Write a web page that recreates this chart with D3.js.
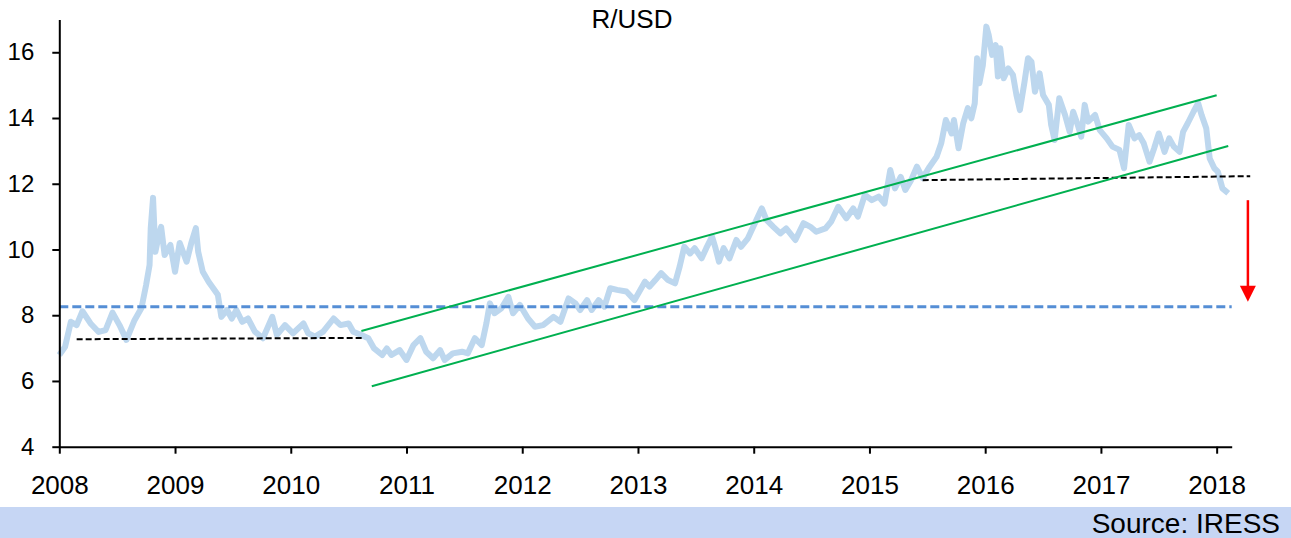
<!DOCTYPE html>
<meta charset="utf-8" />
<style>
  html,
  body {
    margin: 0;
    padding: 0;
    background: #fff;
    font-family: 'Liberation Sans', Arial, sans-serif;
  }
</style>
<script src="https://d3js.org/d3.v7.min.js"></script>

<div id="chart"></div>

<script>
  // R/USD readings, [decimal year, rate], one array per year
  const r2008 = [[2008.0, 6.79], [2008.05, 7.04], [2008.1, 7.8], [2008.15, 7.7], [2008.2, 8.12], [2008.27, 7.75], [2008.34, 7.49], [2008.4, 7.55], [2008.46, 8.08], [2008.52, 7.7], [2008.58, 7.25], [2008.65, 7.85], [2008.71, 8.22], [2008.75, 8.92], [2008.78, 9.53], [2008.79, 10.65], [2008.81, 11.57], [2008.83, 9.93], [2008.86, 10.44], [2008.88, 10.69], [2008.91, 9.83], [2008.96, 10.14]];
  const r2009 = [[2009.0, 9.32], [2009.04, 10.2], [2009.1, 9.63], [2009.14, 10.19], [2009.18, 10.65], [2009.2, 9.93], [2009.24, 9.32], [2009.29, 9.02], [2009.33, 8.82], [2009.37, 8.62], [2009.4, 7.95], [2009.45, 8.16], [2009.49, 7.9], [2009.53, 8.16], [2009.58, 7.8], [2009.63, 7.9], [2009.69, 7.5], [2009.76, 7.3], [2009.84, 7.95], [2009.88, 7.4], [2009.95, 7.7]];
  const r2010 = [[2010.02, 7.45], [2010.11, 7.75], [2010.15, 7.45], [2010.21, 7.35], [2010.28, 7.5], [2010.37, 7.9], [2010.43, 7.7], [2010.5, 7.75], [2010.54, 7.5], [2010.61, 7.4], [2010.67, 7.3], [2010.72, 6.99], [2010.79, 6.79], [2010.83, 6.99], [2010.87, 6.79], [2010.94, 6.94]];
  const r2011 = [[2011.0, 6.64], [2011.06, 7.09], [2011.12, 7.3], [2011.17, 6.89], [2011.23, 6.69], [2011.29, 6.94], [2011.33, 6.64], [2011.4, 6.84], [2011.48, 6.89], [2011.53, 6.84], [2011.59, 7.3], [2011.65, 7.09], [2011.69, 7.75], [2011.72, 8.36], [2011.76, 8.06], [2011.82, 8.21], [2011.88, 8.56], [2011.92, 8.06], [2011.98, 8.31]];
  const r2012 = [[2012.05, 7.9], [2012.11, 7.65], [2012.18, 7.7], [2012.27, 7.95], [2012.33, 7.8], [2012.4, 8.51], [2012.46, 8.36], [2012.5, 8.16], [2012.56, 8.46], [2012.6, 8.16], [2012.66, 8.46], [2012.71, 8.26], [2012.76, 8.82], [2012.82, 8.77], [2012.9, 8.72], [2012.97, 8.46]];
  const r2013 = [[2013.06, 9.02], [2013.1, 8.87], [2013.15, 9.07], [2013.2, 9.28], [2013.26, 9.07], [2013.32, 8.97], [2013.36, 9.48], [2013.4, 10.08], [2013.45, 9.88], [2013.49, 10.04], [2013.55, 9.73], [2013.59, 10.04], [2013.64, 10.39], [2013.67, 10.04], [2013.7, 9.63], [2013.74, 10.04], [2013.79, 9.73], [2013.85, 10.29], [2013.89, 10.08], [2013.95, 10.34]];
  const r2014 = [[2014.01, 10.8], [2014.07, 11.25], [2014.11, 10.9], [2014.17, 10.69], [2014.23, 10.49], [2014.28, 10.64], [2014.36, 10.29], [2014.43, 10.8], [2014.49, 10.69], [2014.54, 10.54], [2014.62, 10.64], [2014.67, 10.85], [2014.73, 11.3], [2014.8, 10.95], [2014.86, 11.25], [2014.9, 11.0], [2014.96, 11.66]];
  const r2015 = [[2015.02, 11.5], [2015.08, 11.61], [2015.13, 11.4], [2015.18, 12.42], [2015.22, 11.86], [2015.27, 12.21], [2015.31, 11.81], [2015.36, 12.11], [2015.41, 12.52], [2015.46, 12.17], [2015.52, 12.52], [2015.58, 12.82], [2015.62, 13.23], [2015.66, 13.94], [2015.71, 13.53], [2015.73, 13.94], [2015.77, 13.08], [2015.81, 13.84], [2015.85, 14.3], [2015.88, 13.99], [2015.91, 14.45], [2015.93, 15.82], [2015.95, 15.06], [2015.98, 15.61]];
  const r2016 = [[2016.01, 16.78], [2016.03, 16.53], [2016.06, 15.92], [2016.09, 16.22], [2016.11, 15.26], [2016.13, 16.12], [2016.16, 15.21], [2016.2, 15.51], [2016.24, 15.31], [2016.27, 14.7], [2016.3, 14.24], [2016.34, 15.1], [2016.37, 15.82], [2016.4, 15.71], [2016.43, 14.8], [2016.47, 15.36], [2016.5, 14.7], [2016.55, 14.4], [2016.57, 13.79], [2016.6, 13.33], [2016.64, 14.6], [2016.69, 14.09], [2016.73, 13.58], [2016.76, 14.19], [2016.8, 13.79], [2016.83, 13.43], [2016.86, 14.4], [2016.89, 13.89], [2016.95, 14.09], [2016.99, 13.63]];
  const r2017 = [[2017.05, 13.38], [2017.1, 13.13], [2017.16, 13.03], [2017.2, 12.47], [2017.24, 13.79], [2017.29, 13.38], [2017.33, 13.48], [2017.37, 13.23], [2017.42, 12.67], [2017.46, 13.08], [2017.5, 13.53], [2017.55, 12.97], [2017.59, 13.38], [2017.63, 13.13], [2017.68, 12.97], [2017.71, 13.58], [2017.75, 13.84], [2017.8, 14.19], [2017.84, 14.45], [2017.87, 14.09], [2017.91, 13.69], [2017.94, 12.77], [2017.98, 12.47]];
  const r2018 = [[2018.01, 12.37], [2018.05, 11.86], [2018.1, 11.71]];

  // annotation lines
  const blueLevel = [[2008.0, 8.26], [2018.13, 8.26]];
  const supportOld = [[2008.15, 7.27], [2010.63, 7.31]];
  const supportNew = [[2015.46, 12.11], [2018.29, 12.23]];
  const channelTop = [[2010.61, 7.52], [2018.0, 14.69]];
  const channelBottom = [[2010.7, 5.84], [2018.1, 13.15]];
  const arrowPts = [[2018.27, 11.5], [2018.27, 8.41]];

  const yTicks = [4, 6, 8, 10, 12, 14, 16];
  const xTicks = [2008, 2009, 2010, 2011, 2012, 2013, 2014, 2015, 2016, 2017, 2018];

  const W = 1291;
  const H = 538;

  const svg = d3
    .select('#chart')
    .append('svg')
    .attr('width', W)
    .attr('height', H);

  const x = d3.scaleLinear().domain([2008, 2018.13]).range([59.3, 1231.7]);
  const y = d3.scaleLinear().domain([4, 17]).range([446.7, 19.4]);

  const line = d3
    .line()
    .x((d) => x(d[0]))
    .y((d) => y(d[1]));

  const rates = [].concat(r2008, r2009, r2010, r2011, r2012, r2013, r2014, r2015, r2016, r2017, r2018);

  // source band
  svg
    .append('rect')
    .attr('x', 0)
    .attr('y', 507)
    .attr('width', W)
    .attr('height', H - 507)
    .attr('fill', '#c6d6f4');

  svg
    .append('text')
    .attr('x', 1280)
    .attr('y', 533)
    .attr('text-anchor', 'end')
    .style('font-size', '28px')
    .text('Source: IRESS');

  // title
  svg
    .append('text')
    .attr('x', 632)
    .attr('y', 28)
    .attr('text-anchor', 'middle')
    .style('font-size', '26px')
    .text('R/USD');

  // the rate
  svg
    .append('path')
    .datum(rates)
    .attr('d', line)
    .attr('fill', 'none')
    .attr('stroke', '#bdd7ee')
    .attr('stroke-width', 6)
    .attr('stroke-linejoin', 'round');

  svg
    .append('path')
    .datum(blueLevel)
    .attr('d', line)
    .attr('stroke', '#558ed5')
    .attr('stroke-width', 3)
    .attr('stroke-dasharray', '9,4');

  [supportOld, supportNew].forEach((pts) => {
    svg
      .append('path')
      .datum(pts)
      .attr('d', line)
      .attr('stroke', '#000')
      .attr('stroke-width', 2)
      .attr('stroke-dasharray', '6,3');
  });

  [channelTop, channelBottom].forEach((pts) => {
    svg
      .append('path')
      .datum(pts)
      .attr('d', line)
      .attr('stroke', '#00b050')
      .attr('stroke-width', 2);
  });

  // red arrow
  const ax = x(arrowPts[0][0]);
  const ay0 = y(arrowPts[0][1]);
  const ay1 = y(arrowPts[1][1]);
  svg
    .append('line')
    .attr('x1', ax)
    .attr('x2', ax)
    .attr('y1', ay0)
    .attr('y2', ay1 - 12)
    .attr('stroke', '#ff0000')
    .attr('stroke-width', 2.5);
  svg
    .append('path')
    .attr('d', `M${ax - 8},${ay1 - 16}L${ax + 8},${ay1 - 16}L${ax},${ay1}Z`)
    .attr('fill', '#ff0000');

  // axes
  const yAxis = svg
    .append('g')
    .attr('transform', `translate(${x(2008)},0)`)
    .call(d3.axisLeft(y).tickValues(yTicks).tickSize(7).tickSizeOuter(0).tickPadding(18));
  yAxis.selectAll('text').style('font-size', '24px').attr('fill', '#000').style('font-family', "'Liberation Sans', Arial, sans-serif");

  const xAxis = svg
    .append('g')
    .attr('transform', `translate(0,${y(4)})`)
    .call(d3.axisBottom(x).tickValues(xTicks).tickFormat(d3.format('d')).tickSize(7).tickSizeOuter(0).tickPadding(22));
  xAxis.selectAll('text').style('font-size', '26px').attr('fill', '#000').style('font-family', "'Liberation Sans', Arial, sans-serif");

  svg.selectAll('.domain, .tick line').attr('stroke', '#000').attr('stroke-width', 2);
</script>
